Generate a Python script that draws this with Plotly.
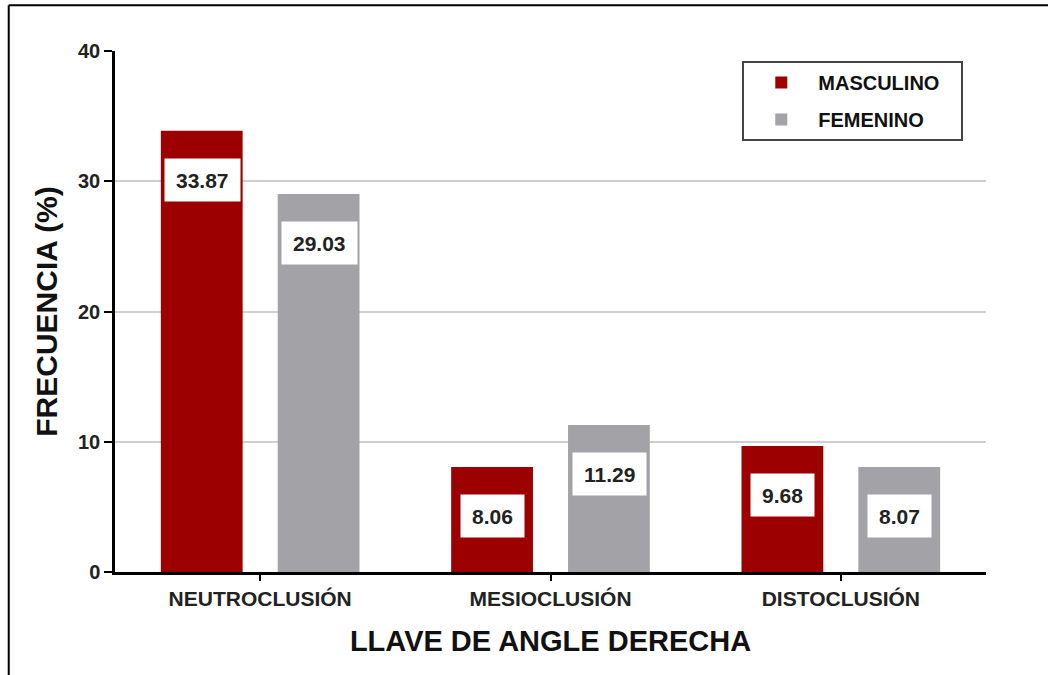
import plotly.graph_objects as go

categories = ["NEUTROCLUSIÓN", "MESIOCLUSIÓN", "DISTOCLUSIÓN"]
masculino = [33.87, 8.06, 9.68]
femenino = [29.03, 11.29, 8.07]
masc_labels = ["33.87", "8.06", "9.68"]
fem_labels = ["29.03", "11.29", "8.07"]
y_ticks = [0, 10, 20, 30, 40]

RED = "#9c0000"
GRAY = "#a2a2a7"
FONT = "Liberation Sans, Arial, sans-serif"

fig = go.Figure()
fig.add_trace(go.Bar(x=categories, y=masculino, name="MASCULINO&nbsp;&nbsp;&nbsp;", legendgroup="m",
                     marker=dict(color=RED, line=dict(width=0))))
fig.add_trace(go.Bar(x=categories, y=femenino, name="FEMENINO", legendgroup="f",
                     marker=dict(color=GRAY, line=dict(width=0))))

def add_labels(values, labels, xshift):
    for cat, v, t in zip(categories, values, labels):
        fig.add_annotation(x=cat, y=v, text=t, showarrow=False,
                           xref="x", yref="y", yanchor="top", yshift=-27, xshift=xshift,
                           bgcolor="white", borderpad=11, height=20,
                           font=dict(family=FONT, size=21, color="#222", weight=700))

add_labels(masculino, masc_labels, -58)
add_labels(femenino, fem_labels, 59)

# outer frame (top and left edges of the figure border)
fig.add_shape(type="line", xref="paper", yref="paper", x0=-0.122, x1=1.08,
              y0=1.088, y1=1.088, line=dict(color="black", width=2))
fig.add_shape(type="line", xref="paper", yref="paper", x0=-0.122, x1=-0.122,
              y0=1.088, y1=-0.21, line=dict(color="black", width=2))

fig.update_layout(
    width=1048, height=675,
    margin=dict(l=115, r=62, t=51, b=103),
    paper_bgcolor="white", plot_bgcolor="white",
    barmode="group", bargap=0.195, bargroupgap=0.30,
    font=dict(family=FONT, color="#111"),
    legend=dict(x=0.7202, y=0.981, xanchor="left", yanchor="top",
                bordercolor="#444", borderwidth=2, bgcolor="white",
                font=dict(family=FONT, size=20, color="#111", weight=700),
                itemwidth=64, tracegroupgap=8),
    showlegend=True,
)
fig.update_xaxes(
    showline=True, linecolor="black", linewidth=2.5,
    ticks="outside", ticklen=6, tickwidth=2, tickcolor="black",
    tickfont=dict(family=FONT, size=21, color="#222", weight=700),
    title=dict(text="LLAVE DE ANGLE DERECHA", standoff=22,
               font=dict(family=FONT, size=29, color="#111", weight=700)),
)
fig.update_yaxes(
    range=[0, 40], tickvals=y_ticks,
    showline=True, linecolor="black", linewidth=2.5,
    ticks="outside", ticklen=8, tickwidth=2, tickcolor="black",
    tickfont=dict(family=FONT, size=20, color="#222", weight=700),
    showgrid=True, gridcolor="#cfcfcf", gridwidth=2,
    zeroline=False,
    title=dict(text="FRECUENCIA (%)", standoff=12,
               font=dict(family=FONT, size=30, color="#111", weight=700)),
)

fig.write_html("out.html", config={"displayModeBar": False},
               post_script="document.body.style.margin='0';document.body.style.padding='0';")
